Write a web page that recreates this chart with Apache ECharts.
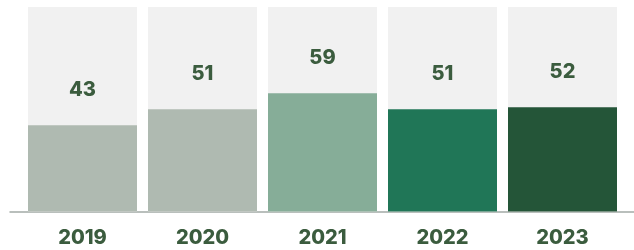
<!DOCTYPE html>
<html>
<head>
<meta charset="utf-8">
<script src="https://cdn.jsdelivr.net/npm/echarts@6/dist/echarts.min.js"></script>
<style>
  html, body { margin: 0; padding: 0; background: #fff; }
  #chart { width: 634px; height: 250px; }
</style>
</head>
<body>
<div id="chart"></div>
<script>
  // data
  var years = ['2019', '2020', '2021', '2022', '2023'];
  var values = [43, 51, 59, 51, 52];
  var barColors = ['#afbab1', '#afbab1', '#86ad98', '#207657', '#245538'];

  var textColor = '#3b5c3e';
  var fontFam = 'Inter, "Noto Sans", sans-serif';

  var chart = echarts.init(document.getElementById('chart'));

  chart.setOption({
    animation: false,
    grid: [
      { left: 22.5, right: 11.5, top: 7, bottom: 38.5 },
      // only used for the long baseline
      { left: 10, right: 0, top: 7, bottom: 38.5 }
    ],
    xAxis: [
      {
        type: 'category',
        gridIndex: 0,
        data: years,
        axisLine: { show: false },
        axisTick: { show: false },
        axisLabel: {
          margin: 16,
          color: textColor,
          fontFamily: fontFam,
          fontWeight: 800,
          fontSize: 20
        }
      },
      {
        type: 'value',
        gridIndex: 1,
        axisLine: { show: true, lineStyle: { color: '#a3aba6', width: 1.5 } },
        axisTick: { show: false },
        axisLabel: { show: false },
        splitLine: { show: false }
      }
    ],
    yAxis: [
      { type: 'value', gridIndex: 0, min: 0, max: 102, show: false },
      { type: 'value', gridIndex: 1, show: false }
    ],
    series: [
      {
        type: 'bar',
        xAxisIndex: 0,
        yAxisIndex: 0,
        barWidth: 109,
        showBackground: true,
        backgroundStyle: { color: '#f1f1f1' },
        data: values.map(function (v, i) {
          return { value: v, itemStyle: { color: barColors[i] } };
        }),
        label: {
          show: true,
          position: 'top',
          distance: 25,
          color: textColor,
          fontFamily: fontFam,
          fontWeight: 800,
          fontSize: 20
        }
      }
    ]
  });
</script>
</body>
</html>
